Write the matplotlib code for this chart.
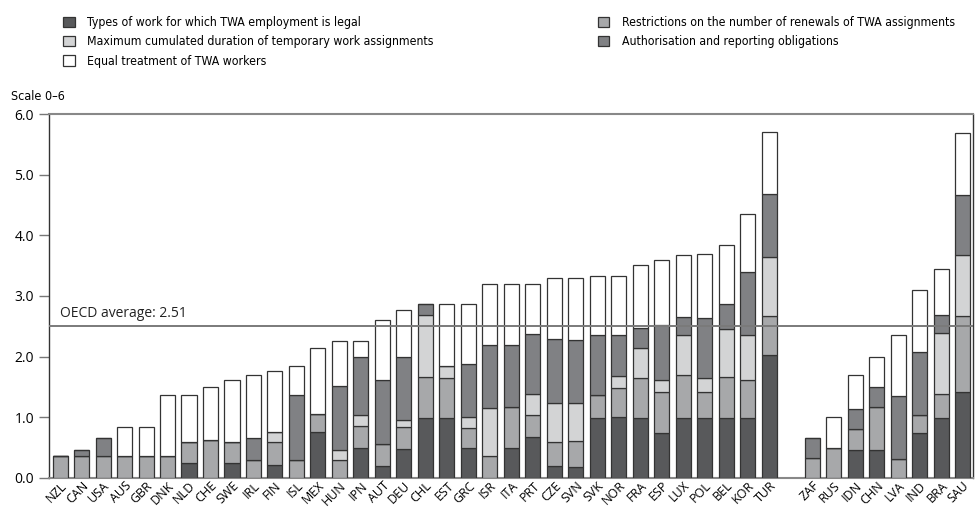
import numpy as np
import matplotlib
matplotlib.use('Agg')
import matplotlib.pyplot as plt
from matplotlib.patches import Patch
from matplotlib import font_manager

# country groups
oecd = ['NZL', 'CAN', 'USA', 'AUS', 'GBR', 'DNK', 'NLD', 'CHE', 'SWE', 'IRL', 'FIN', 'ISL',
        'MEX', 'HUN', 'IPN', 'AUT', 'DEU', 'CHL', 'EST', 'GRC', 'ISR', 'ITA', 'PRT', 'CZE',
        'SVN', 'SVK', 'NOR', 'FRA', 'ESP', 'LUX', 'POL', 'BEL', 'KOR', 'TUR']
partners = ['ZAF', 'RUS', 'IDN', 'CHN', 'LVA', 'IND', 'BRA', 'SAU']

# stacked components, bottom to top (same order as countries)
types_work = [0, 0, 0, 0, 0, 0, 0.25, 0, 0.25, 0, 0.215, 0,
              0.75, 0, 0.49, 0.19, 0.475, 0.98, 0.98, 0.49, 0, 0.49, 0.68, 0.19,
              0.18, 0.98, 1.0, 0.98, 0.735, 0.98, 0.98, 0.98, 0.98, 2.03,
              0, 0, 0.46, 0.46, 0, 0.735, 0.98, 1.41]
renewals = [0.35, 0.35, 0.35, 0.35, 0.35, 0.35, 0.335, 0.62, 0.335, 0.29, 0.37, 0.29,
            0.30, 0.29, 0.37, 0.36, 0.37, 0.68, 0.66, 0.33, 0.35, 0.68, 0.35, 0.40,
            0.43, 0.39, 0.48, 0.66, 0.675, 0.71, 0.44, 0.68, 0.64, 0.64,
            0.33, 0.49, 0.35, 0.71, 0.315, 0.305, 0.40, 1.26]
duration = [0, 0, 0, 0, 0, 0, 0, 0, 0, 0, 0.165, 0,
            0, 0.17, 0.18, 0, 0.115, 1.025, 0.2, 0.19, 0.80, 0, 0.35, 0.64,
            0.62, 0, 0.2, 0.5, 0.2, 0.66, 0.23, 0.79, 0.74, 0.98,
            0, 0, 0, 0, 0, 0, 1.01, 1.0]
authorisation = [0, 0.11, 0.31, 0, 0, 0, 0, 0, 0, 0.37, 0, 1.08,
                 0, 1.05, 0.96, 1.06, 1.03, 0.175, 0, 0.86, 1.04, 1.02, 1.0, 1.06,
                 1.04, 0.99, 0.68, 0.335, 0.91, 0.31, 0.99, 0.41, 1.03, 1.04,
                 0.33, 0, 0.33, 0.33, 1.035, 1.03, 0.29, 1.0]
equal_treatment = [0, 0, 0, 0.49, 0.49, 1.01, 0.775, 0.88, 1.035, 1.03, 1.01, 0.47,
                   1.09, 0.75, 0.25, 0.99, 0.78, 0, 1.03, 1.0, 1.0, 1.0, 0.81, 1.0,
                   1.02, 0.97, 0.97, 1.035, 1.08, 1.01, 1.05, 0.99, 0.97, 1.02,
                   0, 0.51, 0.56, 0.49, 1.0, 1.03, 0.76, 1.02]

oecd_average = 2.51

series = [
    ('Types of work for which TWA employment is legal', types_work, '#58595b'),
    ('Restrictions on the number of renewals of TWA assignments', renewals, '#a7a8aa'),
    ('Maximum cumulated duration of temporary work assignments', duration, '#d3d4d5'),
    ('Authorisation and reporting obligations', authorisation, '#808184'),
    ('Equal treatment of TWA workers', equal_treatment, '#ffffff'),
]

plt.rcParams['font.family'] = ['Open Sans', 'DejaVu Sans']

# the legend uses a condensed face in the original; take one if installed
narrow = None
for fam in ['Noto Sans', 'Open Sans', 'Roboto', 'DejaVu Sans', 'Liberation Sans']:
    for f in font_manager.fontManager.ttflist:
        if (f.name == fam and f.stretch == 'condensed' and f.style == 'normal'
                and f.weight in (400, 'normal', 'regular')):
            narrow = f.fname
            break
    if narrow:
        break
if narrow:
    legend_font = font_manager.FontProperties(fname=narrow, size=8.8)
    scale_font = font_manager.FontProperties(fname=narrow, size=9)
else:
    legend_font = font_manager.FontProperties(family=['Lato', 'DejaVu Sans'], size=8)
    scale_font = font_manager.FontProperties(family=['Lato', 'DejaVu Sans'], size=8.5)

labels = oecd + partners
# leave one empty slot between OECD countries and the others
x = np.concatenate([np.arange(len(oecd)), np.arange(len(partners)) + len(oecd) + 1])

fig = plt.figure(figsize=(9.75, 5.07), dpi=100)
ax = fig.add_axes([0.0506, 0.0578, 0.9477, 0.7168])

bottom = np.zeros(len(labels))
handles = {}
for name, vals, color in series:
    vals = np.array(vals)
    ax.bar(x, vals, width=0.7, bottom=bottom, color=color,
           edgecolor='#333333', linewidth=0.9, zorder=3)
    bottom += vals
    handles[name] = Patch(facecolor=color, edgecolor='#333333', linewidth=0.9)

# OECD average line
ax.axhline(oecd_average, color='#7a7a7a', linewidth=1.4, zorder=4)
ax.text(0, oecd_average + 0.08, f'OECD average: {oecd_average:.2f}',
        fontsize=10, va='bottom', ha='left', color='#222222')

ax.set_xlim(-0.5, x[-1] + 0.5)
ax.set_ylim(0, 6)
ax.set_yticks(np.arange(0, 7))
ax.set_yticklabels([f'{v:.1f}' for v in np.arange(0, 7)], fontsize=10)
ax.set_xticks(x)
ax.set_xticklabels(labels, rotation=45, ha='right', va='top',
                   rotation_mode='anchor', fontsize=9)
ax.tick_params(axis='x', length=0, pad=1)
ax.tick_params(axis='y', length=7, width=1, color='#777777', pad=4)

for side in ['top', 'bottom']:
    ax.spines[side].set_color('#888888')
    ax.spines[side].set_linewidth(1.5)
for side in ['left', 'right']:
    ax.spines[side].set_color('#333333')
    ax.spines[side].set_linewidth(1.0)

# legend in two blocks like the original
col1 = [series[0][0], series[2][0], series[4][0]]
col2 = [series[1][0], series[3][0]]
leg_kw = dict(loc='upper left', frameon=False, prop=legend_font,
              handlelength=0.95, handleheight=0.95, handletextpad=1.0,
              labelspacing=0.52, borderaxespad=0)
fig.legend([handles[n] for n in col1], col1, bbox_to_anchor=(0.060, 0.978), **leg_kw)
fig.legend([handles[n] for n in col2], col2, bbox_to_anchor=(0.608, 0.978), **leg_kw)

fig.text(0.011, 0.81, 'Scale 0\u20136', va='center', ha='left',
         fontproperties=scale_font)

fig.savefig('out.png', dpi=100)
